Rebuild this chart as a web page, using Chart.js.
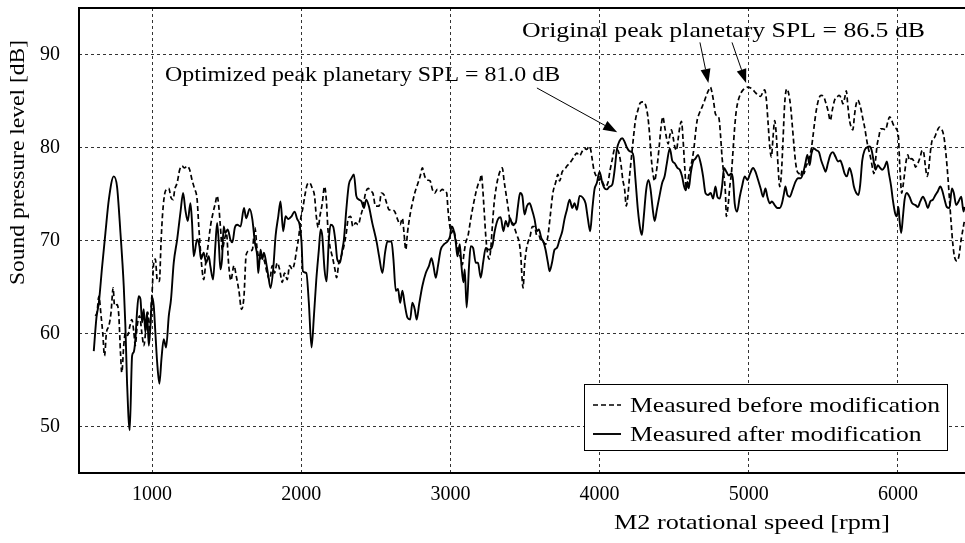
<!DOCTYPE html>
<html>
<head>
<meta charset="utf-8">
<script src="https://cdn.jsdelivr.net/npm/chart.js@4.4.1/dist/chart.umd.min.js"></script>
<style>
  html, body { margin: 0; padding: 0; background: #fff; }
</style>
</head>
<body>
<canvas id="splChart" width="965" height="543"></canvas>
<script>
// Sound pressure level sweep, before and after the gear modification
const rpmBefore = [
  620, 631, 643, 658, 669, 681, 694, 710, 725, 739, 748, 766, 777, 788, 797, 810, 821, 837, 851, 864,
  878, 887, 900, 916, 931, 945, 960, 971, 985, 994, 1000, 1011, 1022, 1034, 1049, 1060, 1071, 1089, 1112, 1127,
  1141, 1152, 1168, 1185, 1201, 1217, 1235, 1252, 1268, 1284, 1302, 1313, 1324, 1335, 1346, 1362, 1375, 1391, 1409, 1424,
  1436, 1447, 1458, 1471, 1485, 1498, 1514, 1528, 1549, 1564, 1582, 1600, 1616, 1631, 1654, 1672, 1689, 1705, 1721, 1739,
  1756, 1772, 1788, 1806, 1821, 1839, 1855, 1873, 1888, 1906, 1922, 1940, 1955, 1969, 1984, 1996, 2011, 2025, 2040, 2056,
  2074, 2089, 2101, 2114, 2125, 2141, 2156, 2168, 2179, 2192, 2208, 2226, 2237, 2252, 2268, 2286, 2302, 2315, 2331, 2346,
  2364, 2382, 2398, 2413, 2431, 2449, 2465, 2480, 2498, 2522, 2537, 2555, 2573, 2589, 2611, 2627, 2645, 2663, 2678, 2689,
  2701, 2712, 2730, 2745, 2761, 2779, 2797, 2812, 2828, 2846, 2864, 2879, 2895, 2913, 2929, 2946, 2962, 2975, 2984, 2993,
  3007, 3020, 3036, 3051, 3065, 3080, 3092, 3103, 3118, 3136, 3152, 3170, 3185, 3199, 3208, 3214, 3226, 3237, 3248, 3259,
  3270, 3281, 3293, 3308, 3322, 3337, 3348, 3360, 3375, 3389, 3400, 3416, 3427, 3445, 3461, 3472, 3481, 3487, 3497, 3509,
  3520, 3535, 3549, 3564, 3580, 3593, 3609, 3625, 3638, 3654, 3669, 3687, 3705, 3721, 3732, 3750, 3765, 3781, 3799, 3817,
  3832, 3848, 3866, 3884, 3899, 3915, 3929, 3940, 3951, 3962, 3978, 3996, 4011, 4022, 4038, 4056, 4071, 4085, 4101, 4116,
  4130, 4145, 4156, 4168, 4179, 4190, 4201, 4214, 4228, 4241, 4257, 4273, 4290, 4308, 4324, 4335, 4346, 4357, 4369, 4380,
  4391, 4402, 4413, 4424, 4436, 4448, 4460, 4471, 4482, 4493, 4504, 4515, 4526, 4538, 4549, 4560, 4571, 4582, 4593, 4605,
  4620, 4634, 4643, 4654, 4667, 4683, 4701, 4716, 4732, 4743, 4754, 4765, 4777, 4790, 4801, 4812, 4821, 4832, 4844, 4850,
  4861, 4873, 4884, 4895, 4906, 4917, 4929, 4946, 4962, 4978, 4996, 5013, 5029, 5045, 5063, 5080, 5096, 5107, 5118, 5130,
  5141, 5152, 5163, 5174, 5186, 5197, 5208, 5219, 5230, 5241, 5255, 5268, 5281, 5293, 5304, 5315, 5326, 5337, 5348, 5360,
  5371, 5382, 5393, 5402, 5411, 5420, 5430, 5441, 5453, 5471, 5486, 5502, 5515, 5531, 5547, 5560, 5576, 5591, 5605, 5620,
  5631, 5643, 5654, 5665, 5676, 5687, 5698, 5710, 5721, 5732, 5743, 5754, 5765, 5777, 5788, 5799, 5810, 5821, 5832, 5839,
  5850, 5861, 5872, 5884, 5899, 5917, 5933, 5944, 5955, 5966, 5978, 5993, 6004, 6011, 6018, 6025, 6034, 6045, 6056, 6067,
  6078, 6089, 6105, 6118, 6134, 6150, 6163, 6174, 6185, 6196, 6208, 6217, 6230, 6246, 6261, 6279, 6290, 6301, 6312, 6324,
  6335, 6346, 6357, 6368, 6379, 6395, 6409, 6424, 6435, 6447
];
const splBefore = [
  61.9, 62.3, 64.0, 61.9, 60.1, 57.6, 60.1, 60.8, 62.3, 64.9, 63.0, 63.1, 61.9, 58.0, 55.8, 58.7, 60.1, 59.8, 60.8, 61.5,
  60.1, 58.7, 60.8, 61.9, 60.1, 58.7, 60.8, 62.3, 60.1, 63.0, 64.4, 67.6, 68.0, 65.8, 65.6, 69.8, 73.0, 75.3, 75.6, 74.6,
  74.4, 75.5, 76.2, 77.6, 78.0, 77.8, 78.0, 77.6, 76.5, 75.6, 74.4, 71.5, 69.0, 66.9, 65.8, 68.0, 69.4, 71.5, 73.0, 74.0,
  74.8, 73.7, 71.5, 69.0, 70.1, 70.8, 67.3, 65.7, 67.3, 66.2, 64.6, 62.6, 64.0, 68.5, 68.9, 69.0, 71.4, 69.0, 68.0, 68.3,
  67.6, 66.4, 65.8, 67.3, 66.5, 67.6, 66.9, 65.5, 66.5, 65.8, 67.3, 66.9, 67.6, 69.0, 70.5, 72.3, 73.5, 74.9, 76.0, 76.2,
  75.6, 74.8, 72.6, 71.4, 72.6, 74.0, 75.8, 74.4, 71.2, 69.4, 68.3, 66.9, 66.0, 67.6, 68.3, 69.4, 70.8, 72.4, 72.6, 71.5,
  71.9, 71.7, 72.6, 73.5, 75.1, 75.6, 75.3, 75.1, 73.7, 73.7, 75.1, 74.9, 74.0, 73.3, 73.3, 73.1, 72.3, 71.7, 72.4, 70.8,
  69.0, 70.8, 72.8, 74.0, 75.1, 76.0, 76.9, 77.8, 76.9, 76.5, 76.4, 75.5, 75.1, 75.5, 75.3, 75.5, 75.3, 75.1, 73.3, 71.9,
  70.8, 71.2, 70.1, 69.0, 68.3, 67.4, 68.7, 69.8, 70.5, 72.3, 73.7, 75.1, 76.0, 76.5, 77.1, 76.2, 73.3, 70.5, 68.7, 68.0,
  69.0, 71.5, 74.0, 75.8, 76.9, 77.6, 77.8, 76.4, 74.8, 73.3, 72.1, 71.9, 71.5, 70.6, 69.8, 68.3, 65.8, 64.9, 67.3, 69.0,
  69.8, 70.5, 71.5, 71.5, 70.5, 70.5, 69.9, 69.8, 69.6, 70.5, 72.6, 75.1, 76.2, 77.1, 76.4, 77.4, 77.6, 78.0, 78.3, 78.7,
  79.1, 79.4, 79.1, 79.6, 79.9, 79.8, 80.1, 79.8, 78.7, 77.6, 76.9, 76.5, 76.7, 76.2, 75.8, 76.2, 77.6, 78.7, 79.8, 79.8,
  79.4, 78.0, 76.5, 75.5, 73.7, 74.8, 76.9, 79.0, 81.2, 83.0, 84.0, 84.8, 84.9, 84.6, 83.3, 81.5, 79.0, 77.3, 76.4, 77.3,
  78.7, 80.5, 82.3, 83.3, 82.3, 81.1, 80.4, 81.3, 81.9, 81.1, 80.1, 79.7, 80.8, 82.2, 82.8, 80.8, 77.9, 75.6, 76.5, 77.6,
  78.6, 80.1, 81.5, 82.9, 83.6, 84.2, 84.9, 85.6, 86.2, 86.5, 85.9, 84.9, 83.6, 83.4, 83.1, 81.1, 79.0, 77.2, 75.1, 72.6,
  73.6, 75.8, 77.2, 79.7, 82.2, 84.0, 85.0, 85.8, 86.2, 86.4, 86.5, 86.4, 86.2, 85.9, 85.6, 85.5, 86.0, 86.2, 85.2, 82.6,
  80.1, 79.0, 81.1, 82.9, 81.1, 77.9, 75.8, 77.2, 80.8, 84.7, 86.3, 85.8, 84.4, 82.2, 80.1, 78.3, 77.4, 77.2, 76.9, 77.6,
  77.2, 77.9, 78.3, 78.6, 79.2, 79.9, 81.1, 82.6, 84.0, 85.3, 85.6, 85.5, 84.9, 84.0, 82.9, 84.0, 85.1, 85.4, 85.6, 85.3,
  84.7, 85.3, 86.1, 84.4, 82.9, 82.2, 81.9, 83.6, 84.7, 85.1, 84.7, 84.0, 83.1, 82.2, 81.1, 80.1, 79.4, 78.6, 77.6, 77.2,
  78.6, 80.3, 81.1, 82.0, 82.0, 81.9, 82.8, 83.3, 83.1, 82.6, 82.2, 81.9, 81.1, 78.6, 76.5, 75.1, 75.8, 77.2, 78.6, 79.2,
  78.6, 78.8, 78.6, 77.9, 78.3, 79.0, 79.7, 79.4, 77.9, 76.9, 77.9, 79.4, 80.8, 81.1, 81.7, 82.2, 82.0, 81.7, 80.8, 79.0,
  76.9, 74.4, 71.9, 69.7, 68.3, 67.8, 68.3, 70.1, 71.1, 72.2
];
const rpmAfter = [
  609, 627, 643, 665, 687, 710, 743, 765, 788, 810, 821, 832, 850, 866, 877, 888, 899, 910, 922, 933,
  944, 955, 966, 978, 989, 1000, 1011, 1022, 1034, 1049, 1063, 1078, 1094, 1112, 1127, 1145, 1168, 1190, 1208, 1223,
  1239, 1257, 1268, 1279, 1302, 1317, 1328, 1346, 1362, 1380, 1391, 1409, 1424, 1436, 1447, 1458, 1469, 1480, 1491, 1507,
  1525, 1538, 1555, 1571, 1593, 1616, 1631, 1654, 1672, 1689, 1705, 1712, 1727, 1739, 1750, 1765, 1779, 1794, 1812, 1828,
  1846, 1861, 1879, 1895, 1913, 1935, 1955, 1973, 1989, 2002, 2011, 2034, 2051, 2069, 2085, 2101, 2118, 2130, 2141, 2156,
  2170, 2185, 2197, 2214, 2230, 2241, 2259, 2275, 2286, 2302, 2319, 2337, 2353, 2369, 2386, 2404, 2420, 2436, 2453, 2476,
  2506, 2522, 2544, 2562, 2578, 2605, 2618, 2634, 2649, 2663, 2678, 2694, 2712, 2730, 2745, 2761, 2774, 2790, 2812, 2835,
  2857, 2873, 2886, 2902, 2917, 2935, 2958, 2980, 2998, 3007, 3020, 3036, 3047, 3063, 3074, 3087, 3096, 3109, 3125, 3136,
  3152, 3170, 3185, 3203, 3221, 3237, 3259, 3281, 3297, 3319, 3337, 3355, 3371, 3386, 3400, 3416, 3438, 3453, 3467, 3482,
  3497, 3513, 3531, 3547, 3564, 3580, 3593, 3609, 3625, 3638, 3654, 3665, 3681, 3698, 3714, 3732, 3750, 3765, 3781, 3799,
  3817, 3832, 3848, 3866, 3888, 3906, 3922, 3937, 3951, 3966, 3982, 4000, 4018, 4034, 4049, 4067, 4085, 4101, 4116, 4134,
  4152, 4168, 4183, 4201, 4217, 4228, 4241, 4257, 4273, 4284, 4295, 4313, 4328, 4342, 4357, 4369, 4384, 4402, 4420, 4436,
  4451, 4471, 4487, 4504, 4522, 4538, 4553, 4567, 4578, 4589, 4598, 4611, 4627, 4643, 4660, 4678, 4694, 4710, 4727, 4745,
  4761, 4777, 4790, 4806, 4821, 4835, 4850, 4866, 4884, 4895, 4906, 4922, 4940, 4955, 4973, 4991, 5009, 5029, 5045, 5063,
  5080, 5096, 5112, 5125, 5141, 5156, 5174, 5192, 5208, 5223, 5237, 5246, 5259, 5275, 5293, 5313, 5331, 5349, 5364, 5380,
  5393, 5409, 5420, 5437, 5453, 5471, 5486, 5502, 5515, 5531, 5547, 5564, 5582, 5598, 5614, 5627, 5643, 5658, 5676, 5692,
  5705, 5721, 5736, 5748, 5761, 5777, 5792, 5810, 5824, 5837, 5850, 5866, 5877, 5895, 5911, 5926, 5940, 5955, 5966, 5982,
  5993, 6004, 6011, 6022, 6034, 6045, 6060, 6078, 6096, 6118, 6134, 6150, 6168, 6185, 6201, 6217, 6235, 6252, 6268, 6284,
  6297, 6313, 6328, 6346, 6362, 6375, 6391, 6407, 6425, 6440, 6447
];
const splAfter = [
  58.1, 61.7, 63.3, 67.2, 70.8, 74.4, 76.9, 75.8, 70.8, 65.1, 60.8, 54.8, 49.6, 57.6, 58.0, 59.4, 62.3, 64.0, 63.7, 61.2,
  62.6, 60.1, 62.3, 58.7, 60.8, 63.9, 63.0, 60.1, 56.9, 54.6, 57.3, 59.4, 58.5, 61.9, 63.7, 67.6, 70.1, 73.0, 75.1, 73.3,
  72.1, 74.0, 71.9, 68.3, 70.1, 69.4, 68.0, 68.7, 67.6, 68.3, 67.2, 65.8, 69.4, 71.9, 69.8, 66.9, 68.0, 71.5, 70.8, 71.2,
  70.1, 69.8, 71.4, 71.7, 71.5, 73.5, 72.4, 73.4, 72.3, 69.8, 68.3, 66.5, 69.0, 68.0, 68.7, 67.6, 66.2, 64.9, 66.9, 70.5,
  72.6, 74.2, 71.0, 72.6, 72.3, 72.6, 73.1, 72.3, 71.7, 69.8, 66.7, 66.5, 63.3, 58.5, 61.9, 65.8, 69.0, 71.2, 70.5, 66.9,
  65.6, 70.1, 71.7, 71.5, 69.8, 68.0, 67.6, 69.0, 70.1, 73.3, 76.0, 76.7, 77.1, 74.8, 74.4, 74.2, 73.5, 74.4, 73.7, 71.9,
  69.8, 68.3, 66.5, 68.7, 69.9, 69.9, 68.0, 64.6, 64.8, 63.3, 64.6, 63.1, 61.7, 61.5, 63.3, 62.6, 61.5, 63.1, 65.1, 66.5,
  67.3, 68.1, 67.3, 66.0, 67.3, 69.0, 69.6, 69.9, 70.5, 71.5, 71.2, 69.8, 68.3, 69.6, 67.3, 65.5, 66.9, 62.8, 67.3, 69.4,
  69.2, 67.6, 67.6, 66.0, 67.8, 69.2, 69.0, 69.4, 71.0, 72.3, 72.5, 71.0, 72.1, 71.5, 72.4, 71.7, 71.9, 73.7, 75.1, 74.8,
  72.8, 73.7, 74.0, 73.3, 72.3, 71.0, 71.2, 70.3, 69.8, 69.0, 67.6, 66.7, 67.6, 69.0, 69.2, 70.1, 71.0, 72.3, 73.3, 74.4,
  73.5, 74.0, 73.3, 74.8, 74.6, 74.0, 72.3, 71.0, 73.3, 75.5, 76.2, 77.4, 76.2, 75.6, 75.5, 75.8, 76.0, 77.6, 79.8, 80.7,
  81.0, 80.6, 80.0, 79.6, 79.5, 79.0, 76.5, 73.3, 71.2, 70.6, 72.3, 75.5, 76.5, 75.5, 73.3, 72.1, 73.3, 74.8, 76.2, 76.9,
  78.3, 79.9, 78.6, 78.3, 77.8, 77.6, 76.9, 75.8, 75.4, 76.3, 75.6, 77.2, 78.5, 78.8, 79.2, 78.3, 76.9, 75.1, 74.9, 75.1,
  74.5, 75.8, 74.7, 74.5, 75.8, 77.8, 77.4, 77.0, 77.2, 76.5, 74.0, 73.1, 74.7, 75.8, 76.9, 76.5, 77.2, 77.8, 77.4, 76.5,
  75.6, 74.7, 75.6, 74.7, 74.0, 74.2, 73.8, 73.5, 73.5, 74.0, 75.1, 75.8, 74.9, 74.7, 75.4, 76.3, 76.7, 76.7, 77.2, 78.3,
  79.2, 78.1, 79.3, 79.9, 79.7, 79.5, 78.6, 77.9, 77.4, 78.3, 79.2, 79.5, 79.0, 78.5, 78.6, 78.1, 77.2, 76.9, 77.8, 77.0,
  75.8, 75.1, 74.9, 76.1, 78.6, 79.7, 80.0, 80.1, 79.7, 78.6, 77.6, 78.1, 77.9, 77.6, 77.9, 78.5, 77.2, 75.8, 74.4, 72.9,
  72.6, 73.6, 72.2, 70.8, 72.6, 74.4, 75.1, 74.7, 74.0, 73.8, 73.6, 74.2, 74.7, 74.2, 73.5, 74.2, 74.4, 74.9, 75.3, 75.8,
  75.4, 74.4, 73.6, 73.5, 75.6, 75.1, 73.8, 74.2, 74.7, 73.1, 73.6
];
const xTicks = [1000, 2000, 3000, 4000, 5000, 6000];
const yTicks = [50, 60, 70, 80, 90];
const seriesNames = ['Measured before modification', 'Measured after modification'];

const serif = '"Liberation Serif", "DejaVu Serif", serif';

function toPoints(xs, ys) {
  return xs.map((x, i) => ({ x: x, y: ys[i] }));
}

// indices of the highest value(s) in a series
function peakIndices(ys) {
  const top = Math.max(...ys);
  return ys.map((v, i) => v === top ? i : -1).filter(i => i >= 0);
}

// draw text stretched horizontally to a set width (x is the left edge)
function wideText(ctx, text, x, y, width) {
  const w = ctx.measureText(text).width;
  ctx.save();
  ctx.translate(x, y);
  ctx.scale(width / w, 1);
  ctx.textAlign = 'left';
  ctx.fillText(text, 0, 0);
  ctx.restore();
}

function drawArrow(ctx, x1, y1, x2, y2) {
  const ang = Math.atan2(y2 - y1, x2 - x1);
  const len = 14, half = 5;
  const c = Math.cos(ang), s = Math.sin(ang);
  ctx.beginPath();
  ctx.moveTo(x1, y1);
  ctx.lineTo(x2 - len * c, y2 - len * s);
  ctx.stroke();
  ctx.beginPath();
  ctx.moveTo(x2, y2);
  ctx.lineTo(x2 - len * c - half * s, y2 - len * s + half * c);
  ctx.lineTo(x2 - len * c + half * s, y2 - len * s - half * c);
  ctx.closePath();
  ctx.fill();
}

// frame, peak notes, legend box and axis titles
const decorations = {
  id: 'decorations',
  afterDatasetsDraw(chart) {
    const ctx = chart.ctx;
    const area = chart.chartArea;
    const xs = chart.scales.x, ys = chart.scales.y;

    ctx.save();
    ctx.strokeStyle = '#000';
    ctx.lineWidth = 2;
    ctx.beginPath();
    ctx.moveTo(area.right + 2, area.top);
    ctx.lineTo(area.left, area.top);
    ctx.lineTo(area.left, area.bottom);
    ctx.lineTo(area.right + 2, area.bottom);
    ctx.stroke();

    ctx.fillStyle = '#000';
    ctx.lineWidth = 1;
    ctx.textBaseline = 'middle';
    ctx.font = '21px ' + serif;

    // optimized peak
    const ia = peakIndices(splAfter)[0];
    const peakA = splAfter[ia];
    wideText(ctx, 'Optimized peak planetary SPL = ' + peakA.toFixed(1) + ' dB',
      xs.getPixelForValue(1087), ys.getPixelForValue(87.7), 395);
    drawArrow(ctx, xs.getPixelForValue(3580), ys.getPixelForValue(86.4),
      xs.getPixelForValue(rpmAfter[ia]) - 5, ys.getPixelForValue(peakA) - 6);

    // original peaks
    const ib = peakIndices(splBefore);
    const peakB = splBefore[ib[0]];
    wideText(ctx, 'Original peak planetary SPL = ' + peakB.toFixed(1) + ' dB',
      xs.getPixelForValue(3480), ys.getPixelForValue(92.5), 403);
    const starts = [4673, 4888];
    ib.forEach((i, k) => {
      drawArrow(ctx, xs.getPixelForValue(starts[k]), ys.getPixelForValue(91.3),
        xs.getPixelForValue(rpmBefore[i]) - 2, ys.getPixelForValue(peakB) - 4);
    });

    // legend
    const lw = 363, lh = 66;
    const lx = area.right - 18 - lw, ly = area.bottom - 23 - lh;
    ctx.fillStyle = '#fff';
    ctx.fillRect(lx, ly, lw, lh);
    ctx.strokeStyle = '#000';
    ctx.lineWidth = 1;
    ctx.strokeRect(lx + 0.5, ly + 0.5, lw, lh);
    const stretch = 310 / ctx.measureText(chart.data.datasets[0].label).width;
    chart.data.datasets.forEach((ds, k) => {
      const cy = ly + 21 + k * 29;
      ctx.save();
      ctx.lineWidth = ds.borderWidth;
      ctx.setLineDash(ds.borderDash || []);
      ctx.beginPath();
      ctx.moveTo(lx + 9, cy);
      ctx.lineTo(lx + 37, cy);
      ctx.stroke();
      ctx.restore();
      ctx.fillStyle = '#000';
      wideText(ctx, ds.label, lx + 46, cy + 1, ctx.measureText(ds.label).width * stretch);
    });

    // axis titles
    wideText(ctx, 'M2 rotational speed [rpm]', 614, 523, 276);
    ctx.translate(18, 285);
    ctx.rotate(-Math.PI / 2);
    wideText(ctx, 'Sound pressure level [dB]', 0, 0, 245);
    ctx.restore();
  }
};

new Chart(document.getElementById('splChart'), {
  type: 'line',
  data: {
    datasets: [
      {
        label: seriesNames[0],
        data: toPoints(rpmBefore, splBefore),
        borderColor: '#000',
        borderWidth: 1.7,
        borderDash: [5, 3],
        pointRadius: 0,
        fill: false,
        cubicInterpolationMode: 'monotone'
      },
      {
        label: seriesNames[1],
        data: toPoints(rpmAfter, splAfter),
        borderColor: '#000',
        borderWidth: 1.9,
        pointRadius: 0,
        fill: false,
        cubicInterpolationMode: 'monotone'
      }
    ]
  },
  options: {
    responsive: false,
    animation: false,
    devicePixelRatio: 1,
    layout: { padding: { top: 8, right: 0, left: 0, bottom: 0 } },
    plugins: {
      legend: { display: false },
      tooltip: { enabled: false }
    },
    scales: {
      x: {
        type: 'linear',
        min: 510,
        max: 6450,
        afterBuildTicks: s => { s.ticks = xTicks.map(v => ({ value: v })); },
        afterFit: s => { s.height = 70; s.paddingLeft = 0; s.paddingRight = 0; },
        grid: { color: '#333', lineWidth: 1, drawTicks: false },
        border: { display: false, dash: [3, 3] },
        ticks: {
          color: '#000',
          padding: 10,
          maxRotation: 0,
          font: { family: serif, size: 20 },
          callback: v => String(v)
        }
      },
      y: {
        min: 45,
        max: 95,
        afterBuildTicks: s => { s.ticks = yTicks.map(v => ({ value: v })); },
        afterFit: s => { s.width = 79; s.paddingTop = 0; s.paddingBottom = 0; },
        grid: { color: '#333', lineWidth: 1, drawTicks: false },
        border: { display: false, dash: [3, 3] },
        ticks: {
          color: '#000',
          padding: 19,
          font: { family: serif, size: 20 }
        }
      }
    }
  },
  plugins: [decorations]
});
</script>
</body>
</html>
